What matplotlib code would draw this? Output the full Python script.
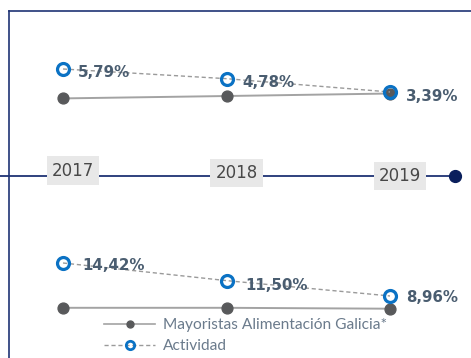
import matplotlib.pyplot as plt
from matplotlib.lines import Line2D
from matplotlib.transforms import blended_transform_factory

years = [2017, 2018, 2019]
year_labels = ['2017', '2018', '2019']

# upper block
act_top = [5.79, 4.78, 3.39]
may_top = [2.72, 2.97, 3.23]
lbl_top = ['5,79%', '4,78%', '3,39%']

# lower block
act_bot = [14.42, 11.50, 8.96]
may_bot = [7.00, 7.00, 6.85]
lbl_bot = ['14,42%', '11,50%', '8,96%']

navy = '#1f3374'
blue = '#0b72c4'
grey_dot = '#58595b'
grey_line = '#a3a3a3'
val_col = '#4a5d70'

plt.rcParams['font.family'] = ['Lato', 'DejaVu Sans']

fig = plt.figure(figsize=(4.71, 3.58), dpi=100)

# background axes in pixel units for frame and timeline
base = fig.add_axes([0, 0, 1, 1])
base.set_xlim(0, 471)
base.set_ylim(358, 0)
base.axis('off')

base.plot([9, 9], [11, 358], color=navy, lw=1.2)
base.plot([9, 471], [11, 11], color=navy, lw=1.2)
base.plot([0, 455], [176, 176], color=navy, lw=1.3)
base.plot([455], [176], 'o', color='#0a1f5c', ms=8.5)

xlim = (2017 - 63 / 163.5, 2017 + 408 / 163.5)


def panel(rect, ylim, act, may, labels, offsets):
    ax = fig.add_axes(rect)
    ax.set_xlim(*xlim)
    ax.set_ylim(*ylim)
    ax.axis('off')
    ax.plot(years, may, '-', color=grey_line, lw=1.4, zorder=2)
    ax.plot(years, may, 'o', color=grey_dot, ms=7.8, zorder=3, lw=0)
    ax.plot(years, act, '--', color='#9a9a9a', lw=1.0, dashes=(3, 2), zorder=4)
    ax.plot(years, act, 'o', mfc='none', mec=blue, ms=8.6, mew=2.3, zorder=5, lw=0)
    for x, v, s, (dx, dy) in zip(years, act, labels, offsets):
        ax.annotate(s, (x, v), xytext=(dx, -dy), textcoords='offset pixels',
                    ha='left', va='center', fontsize=10.8, fontweight='bold',
                    family='DejaVu Sans', color=val_col, zorder=6)
    return ax


# top axes covers pixel rows 20-150, bottom axes rows 200-320
ax_top = panel([0, (358 - 150) / 358, 1, 130 / 358], (-2.665, 10.905),
               act_top, may_top, lbl_top, [(15, 3), (16, 4), (16, 5)])
ax_bot = panel([0, (358 - 320) / 358, 1, 120 / 358], (4.98, 24.85),
               act_bot, may_bot, lbl_bot, [(19, 3), (19, 5), (16, 2)])

# year boxes on the timeline
tr = blended_transform_factory(ax_top.transData, base.transData)
for x, s, yc in zip(years, year_labels, [170.5, 173, 176]):
    base.annotate(s, (x, yc), xycoords=tr, xytext=(10, 0), textcoords='offset pixels',
                  ha='center', va='center', fontsize=12,
                  family='DejaVu Sans', color='#484848',
                  bbox=dict(boxstyle='square,pad=0.32', fc='#e8e8e8', ec='none'),
                  zorder=5)

handles = [
    Line2D([], [], color=grey_line, lw=1.2, marker='o', mfc=grey_dot, mec=grey_dot, ms=5),
    Line2D([], [], color='#9a9a9a', lw=1.0, ls='--', dashes=(3, 2), marker='o',
           mfc='none', mec=blue, ms=6, mew=2),
]
fig.legend(handles, ['Mayoristas Alimentación Galicia*', 'Actividad'],
           loc='upper left', bbox_to_anchor=(104 / 471, 1 - 318 / 358),
           frameon=False, fontsize=11.2, handlelength=3.3, handletextpad=0.5,
           borderpad=0, borderaxespad=0, labelspacing=0.45, numpoints=1,
           labelcolor='#6b7b8c')

fig.savefig('out.png', dpi=100)
